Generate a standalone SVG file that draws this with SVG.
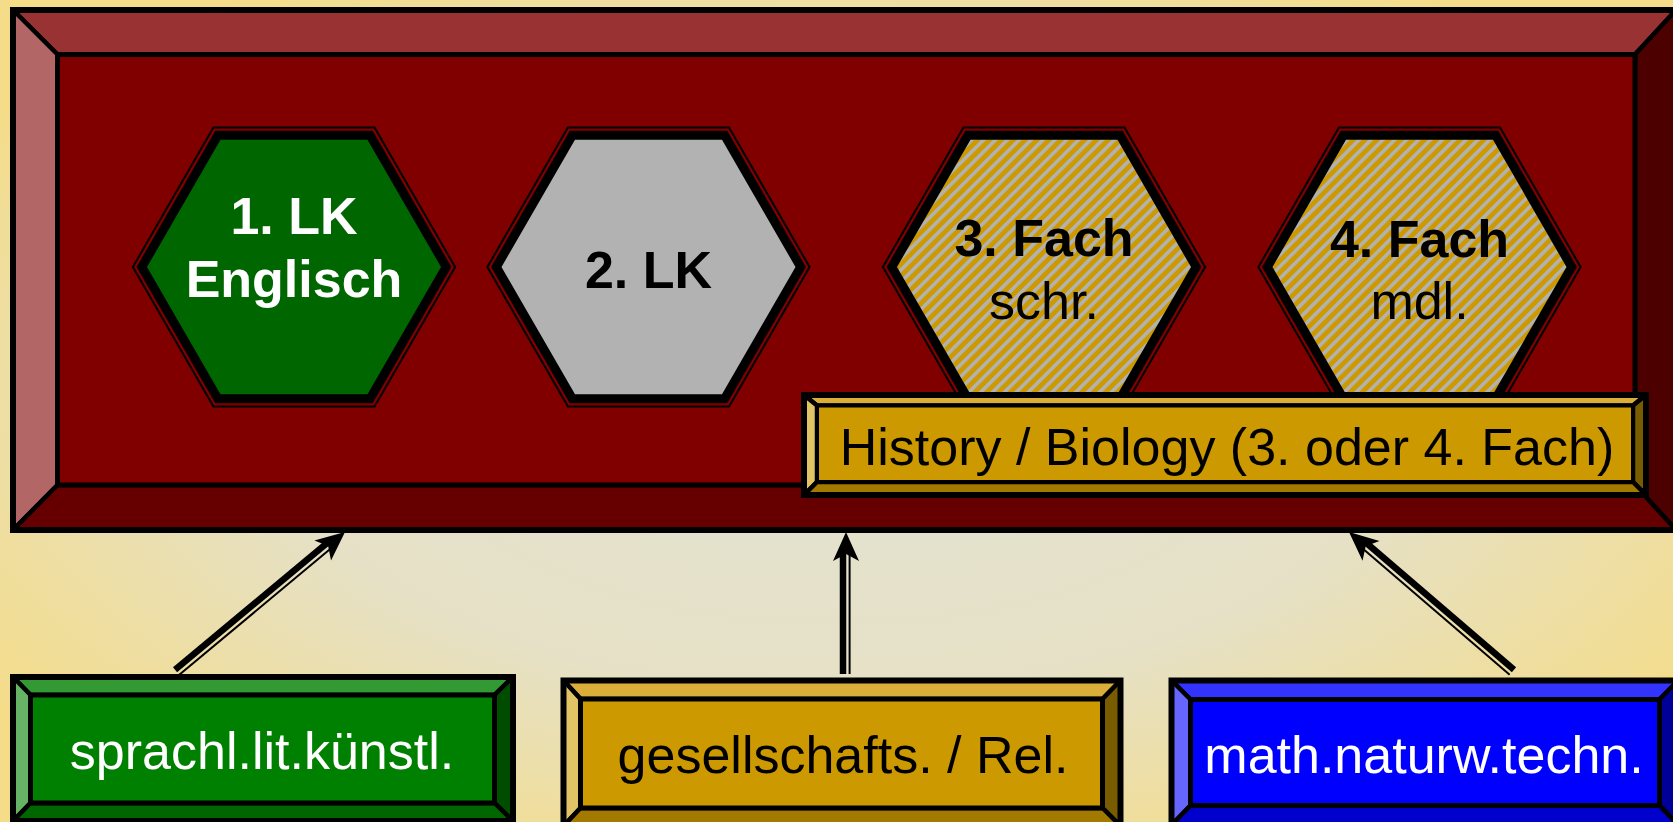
<svg xmlns="http://www.w3.org/2000/svg" xmlns:xlink="http://www.w3.org/1999/xlink" width="1673" height="822" viewBox="0 0 1673 822">
<style>
.bv{stroke:#000;stroke-width:4.5;stroke-linejoin:miter;stroke-miterlimit:2}
.ol{fill:none;stroke:#000;stroke-width:6}
.thin{fill:none;stroke:#000;stroke-width:2;stroke-linejoin:miter}
.thick{stroke:#000;stroke-width:9;stroke-linejoin:miter}
.tb{font-family:"Liberation Sans",Arial,sans-serif;font-weight:bold;font-size:52px;text-anchor:middle}
.tr{font-family:"Liberation Sans",Arial,sans-serif;font-size:52px;text-anchor:middle}
.l1{stroke:#000;stroke-width:6.5;fill:none}
.l2{stroke:#000;stroke-width:2;fill:none}
</style>
<defs>
<radialGradient id="bg" cx="50%" cy="50%" r="62%">
<stop offset="0" stop-color="#E3E2D3"/>
<stop offset="0.55" stop-color="#E6E1C6"/>
<stop offset="1" stop-color="#F4DC88"/>
</radialGradient>
<pattern id="stripe" patternUnits="userSpaceOnUse" width="8.4" height="8.4" patternTransform="rotate(45)">
<rect width="8.4" height="8.4" fill="#CC9900"/>
<rect width="3.6" height="8.4" fill="#B2B2B2"/>
</pattern>
<polygon id="hexThin" points="-161.1,0 -80.55,-139.5 80.55,-139.5 161.1,0 80.55,139.5 -80.55,139.5"/>
<polygon id="hexThick" points="-152.2,0 -76.1,-131.8 76.1,-131.8 152.2,0 76.1,131.8 -76.1,131.8"/>
<path id="head" d="M0,0 L-29,-13 L-22,0 L-29,13 Z" fill="#000"/>
</defs>
<rect width="1673" height="822" fill="url(#bg)"/>

<g id="frame">
<polygon class="bv" fill="#993333" points="13,10 1676,10 1635,54.5 57.5,54.5"/>
<polygon class="bv" fill="#B36666" points="13,10 57.5,54.5 57.5,485 13,530"/>
<polygon class="bv" fill="#4D0000" points="1676,10 1676,530 1635,485 1635,54.5"/>
<polygon class="bv" fill="#660000" points="13,530 57.5,485 1635,485 1676,530"/>
<rect x="57.5" y="54.5" width="1577.5" height="430.5" fill="#800000" stroke="#000" stroke-width="5"/>
<rect x="13" y="10" width="1663" height="520" class="ol"/>
</g>

<g id="hex1" transform="translate(294,267)">
<use xlink:href="#hexThin" class="thin"/>
<use xlink:href="#hexThick" class="thick" fill="#006600"/>
<text class="tb" fill="#fff" x="0" y="-33">1. LK</text>
<text class="tb" fill="#fff" x="0" y="30">Englisch</text>
</g>
<g id="hex2" transform="translate(648.5,267)">
<use xlink:href="#hexThin" class="thin"/>
<use xlink:href="#hexThick" class="thick" fill="#B2B2B2"/>
<text class="tb" fill="#000" x="0" y="21">2. LK</text>
</g>
<g id="hex3" transform="translate(1044,267)">
<use xlink:href="#hexThin" class="thin"/>
<use xlink:href="#hexThick" class="thick" fill="url(#stripe)"/>
<text class="tb" fill="#000" x="0" y="-11">3. Fach</text>
<text class="tr" fill="#000" x="0" y="52">schr.</text>
</g>
<g id="hex4" transform="translate(1419.5,267)">
<use xlink:href="#hexThin" class="thin"/>
<use xlink:href="#hexThick" class="thick" fill="url(#stripe)"/>
<text class="tb" fill="#000" x="0" y="-10">4. Fach</text>
<text class="tr" fill="#000" x="0" y="52">mdl.</text>
</g>

<g id="history">
<polygon class="bv" stroke-width="3.5" fill="#DAAE38" points="804,395 1646,395 1633,405.5 817,405.5"/>
<polygon class="bv" stroke-width="3.5" fill="#E0C466" points="804,395 817,405.5 817,482 804,495"/>
<polygon class="bv" stroke-width="3.5" fill="#7A5C00" points="1646,395 1646,495 1633,482 1633,405.5"/>
<polygon class="bv" stroke-width="3.5" fill="#A37A00" points="804,495 817,482 1633,482 1646,495"/>
<rect x="817" y="405.5" width="816" height="76.5" fill="#CC9900" stroke="#000" stroke-width="4"/>
<rect x="804" y="395" width="842" height="100" class="ol" stroke-width="5"/>
<text class="tr" fill="#000" x="1227" y="465" font-size="53">History / Biology (3. oder 4. Fach)</text>
</g>

<g id="connectors">
<g transform="translate(345,532) rotate(-39.8)">
<line class="l1" x1="-218.7" y1="-3" x2="-18" y2="-3"/>
<line class="l2" x1="-218.7" y1="3.6" x2="-18" y2="3.6"/>
<use xlink:href="#head"/>
</g>
<g transform="translate(846,532) rotate(-90)">
<line class="l1" x1="-142" y1="-3" x2="-18" y2="-3"/>
<line class="l2" x1="-142" y1="3.6" x2="-18" y2="3.6"/>
<use xlink:href="#head"/>
</g>
<g transform="translate(1349,532) rotate(-139.34)">
<line class="l1" x1="-214.9" y1="3" x2="-18" y2="3"/>
<line class="l2" x1="-214.9" y1="-3.6" x2="-18" y2="-3.6"/>
<use xlink:href="#head"/>
</g>
</g>

<g id="box-sprachl">
<polygon class="bv" fill="#339933" points="13,677 513,677 494.5,695 30.5,695"/>
<polygon class="bv" fill="#66B366" points="13,677 30.5,695 30.5,803 13,821"/>
<polygon class="bv" fill="#004D00" points="513,677 513,821 494.5,803 494.5,695"/>
<polygon class="bv" fill="#006600" points="13,821 30.5,803 494.5,803 513,821"/>
<rect x="30.5" y="695" width="464" height="108" fill="#008000" stroke="#000" stroke-width="5"/>
<rect x="13" y="677" width="500" height="144" class="ol"/>
<text class="tr" fill="#fff" x="262" y="769">sprachl.lit.künstl.</text>
</g>

<g id="box-gesell">
<polygon class="bv" fill="#DAAE38" points="563.5,680.5 1120.5,680.5 1102.5,699 580.5,699"/>
<polygon class="bv" fill="#E0C466" points="563.5,680.5 580.5,699 580.5,808 563.5,826"/>
<polygon class="bv" fill="#7A5C00" points="1120.5,680.5 1120.5,826 1102.5,808 1102.5,699"/>
<polygon class="bv" fill="#A37A00" points="563.5,826 580.5,808 1102.5,808 1120.5,826"/>
<rect x="580.5" y="699" width="522" height="109" fill="#CC9900" stroke="#000" stroke-width="5"/>
<rect x="563.5" y="680.5" width="557" height="145.5" class="ol"/>
<text class="tr" fill="#000" x="843" y="773">gesellschafts. / Rel.</text>
</g>

<g id="box-math">
<polygon class="bv" fill="#3333FF" points="1171.5,680.5 1678,680.5 1659.5,699.5 1190.5,699.5"/>
<polygon class="bv" fill="#6666FF" points="1171.5,680.5 1190.5,699.5 1190.5,805.5 1171.5,825"/>
<polygon class="bv" fill="#000099" points="1678,680.5 1678,825 1659.5,805.5 1659.5,699.5"/>
<polygon class="bv" fill="#0000CC" points="1171.5,825 1190.5,805.5 1659.5,805.5 1678,825"/>
<rect x="1190.5" y="699.5" width="469" height="106" fill="#0000FF" stroke="#000" stroke-width="5"/>
<rect x="1171.5" y="680.5" width="506.5" height="144.5" class="ol"/>
<text class="tr" fill="#fff" x="1424" y="773">math.naturw.techn.</text>
</g>
</svg>
